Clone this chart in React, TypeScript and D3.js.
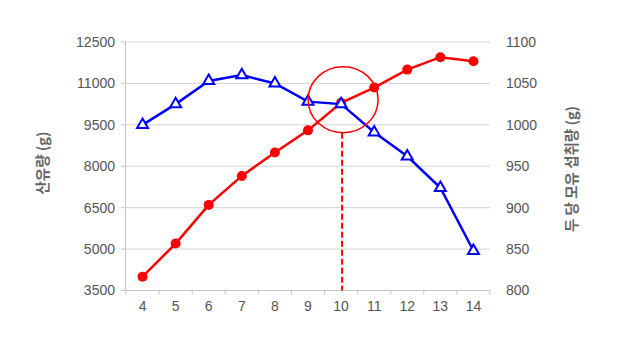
import React from "react";
import * as d3 from "d3";

const categories = ["4", "5", "6", "7", "8", "9", "10", "11", "12", "13", "14"];
const milkYield = [4000, 5200, 6600, 7650, 8500, 9300, 10300, 10850, 11500, 11950, 11800];
const intakePerHead = [1000, 1025, 1053, 1060, 1050, 1028, 1025, 991, 962, 924, 848];
const leftTicks = [3500, 5000, 6500, 8000, 9500, 11000, 12500];
const rightTicks = [800, 850, 900, 950, 1000, 1050, 1100];
const leftTitle = "산유량 (g)";
const rightTitle = "두 당 모유 섭취량 (g)";
const highlightCategory = "10";

const W = 628;
const H = 340;
const plotLeft = 126;
const plotRight = 490;
const plotTop = 42;
const plotBottom = 290.5;

export default function App() {
  const x = d3.scaleBand<string>().domain(categories).range([plotLeft, plotRight]).padding(0);
  const yL = d3.scaleLinear().domain([3500, 12500]).range([plotBottom, plotTop]);
  const yR = d3.scaleLinear().domain([800, 1100]).range([plotBottom, plotTop]);
  const cx = (c: string) => (x(c) as number) + x.bandwidth() / 2;

  const redLine = d3
    .line<number>()
    .x((_, i) => cx(categories[i]))
    .y((d) => yL(d));
  const blueLine = d3
    .line<number>()
    .x((_, i) => cx(categories[i]))
    .y((d) => yR(d));

  const tri = d3.symbol().type(d3.symbolTriangle).size(52)() as string;

  const hx = cx(highlightCategory);
  const hIdx = categories.indexOf(highlightCategory);
  const hy = yL(milkYield[hIdx]) - 3;
  const rx = 35;
  const ry = 33;

  const tickFont = "'Liberation Sans', Arial, sans-serif";
  const titleFont = "'Noto Sans CJK KR', 'Noto Sans', sans-serif";
  const textColor = "#555";
  const bounds = x.domain().map((c) => x(c) as number).concat([plotRight]);

  return (
    <svg
      width={W}
      height={H}
      style={{ position: "absolute", left: 0, top: 0, background: "#fff" }}
    >
      {leftTicks.slice(1).map((t) => (
        <line key={"g" + t} x1={plotLeft} x2={plotRight} y1={yL(t)} y2={yL(t)} stroke="#d4d4d4" strokeWidth={1} />
      ))}
      <line x1={plotLeft - 0.5} x2={plotLeft - 0.5} y1={plotTop} y2={plotBottom} stroke="#c4c4c4" strokeWidth={1} />
      {leftTicks.map((t) => (
        <g key={"l" + t}>
          <line x1={plotLeft - 5} x2={plotLeft} y1={yL(t)} y2={yL(t)} stroke="#c4c4c4" />
          <text
            x={115}
            y={yL(t)}
            dy="0.35em"
            textAnchor="end"
            fontSize={14}
            fontFamily={tickFont}
            fill={textColor}
          >
            {t}
          </text>
        </g>
      ))}
      {rightTicks.map((t) => (
        <text
          key={"r" + t}
          x={506}
          y={yR(t)}
          dy="0.35em"
          textAnchor="start"
          fontSize={14}
          fontFamily={tickFont}
          fill={textColor}
        >
          {t}
        </text>
      ))}
      <line x1={plotLeft} x2={plotRight} y1={plotBottom} y2={plotBottom} stroke="#c4c4c4" />
      {bounds.map((b, i) => (
        <line key={"b" + i} x1={b} x2={b} y1={plotBottom} y2={plotBottom + 4} stroke="#c4c4c4" />
      ))}
      {categories.map((c) => (
        <text
          key={"c" + c}
          x={cx(c)}
          y={311}
          textAnchor="middle"
          fontSize={14}
          fontFamily={tickFont}
          fill={textColor}
        >
          {c}
        </text>
      ))}
      <text
        transform={`translate(48, 163) rotate(-90)`}
        textAnchor="middle"
        fontSize={14.5}
        fontWeight={700}
        fontFamily={titleFont}
        fill="#666"
      >
        {leftTitle}
      </text>
      <text
        transform={`translate(577, 169) rotate(-90)`}
        textAnchor="middle"
        fontSize={14.5}
        fontWeight={700}
        fontFamily={titleFont}
        fill="#666"
      >
        {rightTitle}
      </text>
      <line
        x1={hx + 1}
        x2={hx + 1}
        y1={hy + ry}
        y2={plotBottom}
        stroke="#ff0000"
        strokeWidth={2}
        strokeDasharray="6,3"
      />
      <path d={redLine(milkYield) as string} fill="none" stroke="#ff0000" strokeWidth={2.5} />
      {milkYield.map((v, i) => (
        <circle key={"rp" + i} cx={cx(categories[i])} cy={yL(v)} r={5} fill="#ff0000" />
      ))}
      <path d={blueLine(intakePerHead) as string} fill="none" stroke="#0000ff" strokeWidth={2.5} />
      {intakePerHead.map((v, i) => (
        <path
          key={"bp" + i}
          d={tri}
          transform={`translate(${cx(categories[i])},${yR(v)})`}
          fill="#fff"
          stroke="#0000ff"
          strokeWidth={2}
        />
      ))}
      <ellipse cx={hx + 2} cy={hy} rx={rx} ry={ry} fill="none" stroke="#ff0000" strokeWidth={1.5} />
    </svg>
  );
}
